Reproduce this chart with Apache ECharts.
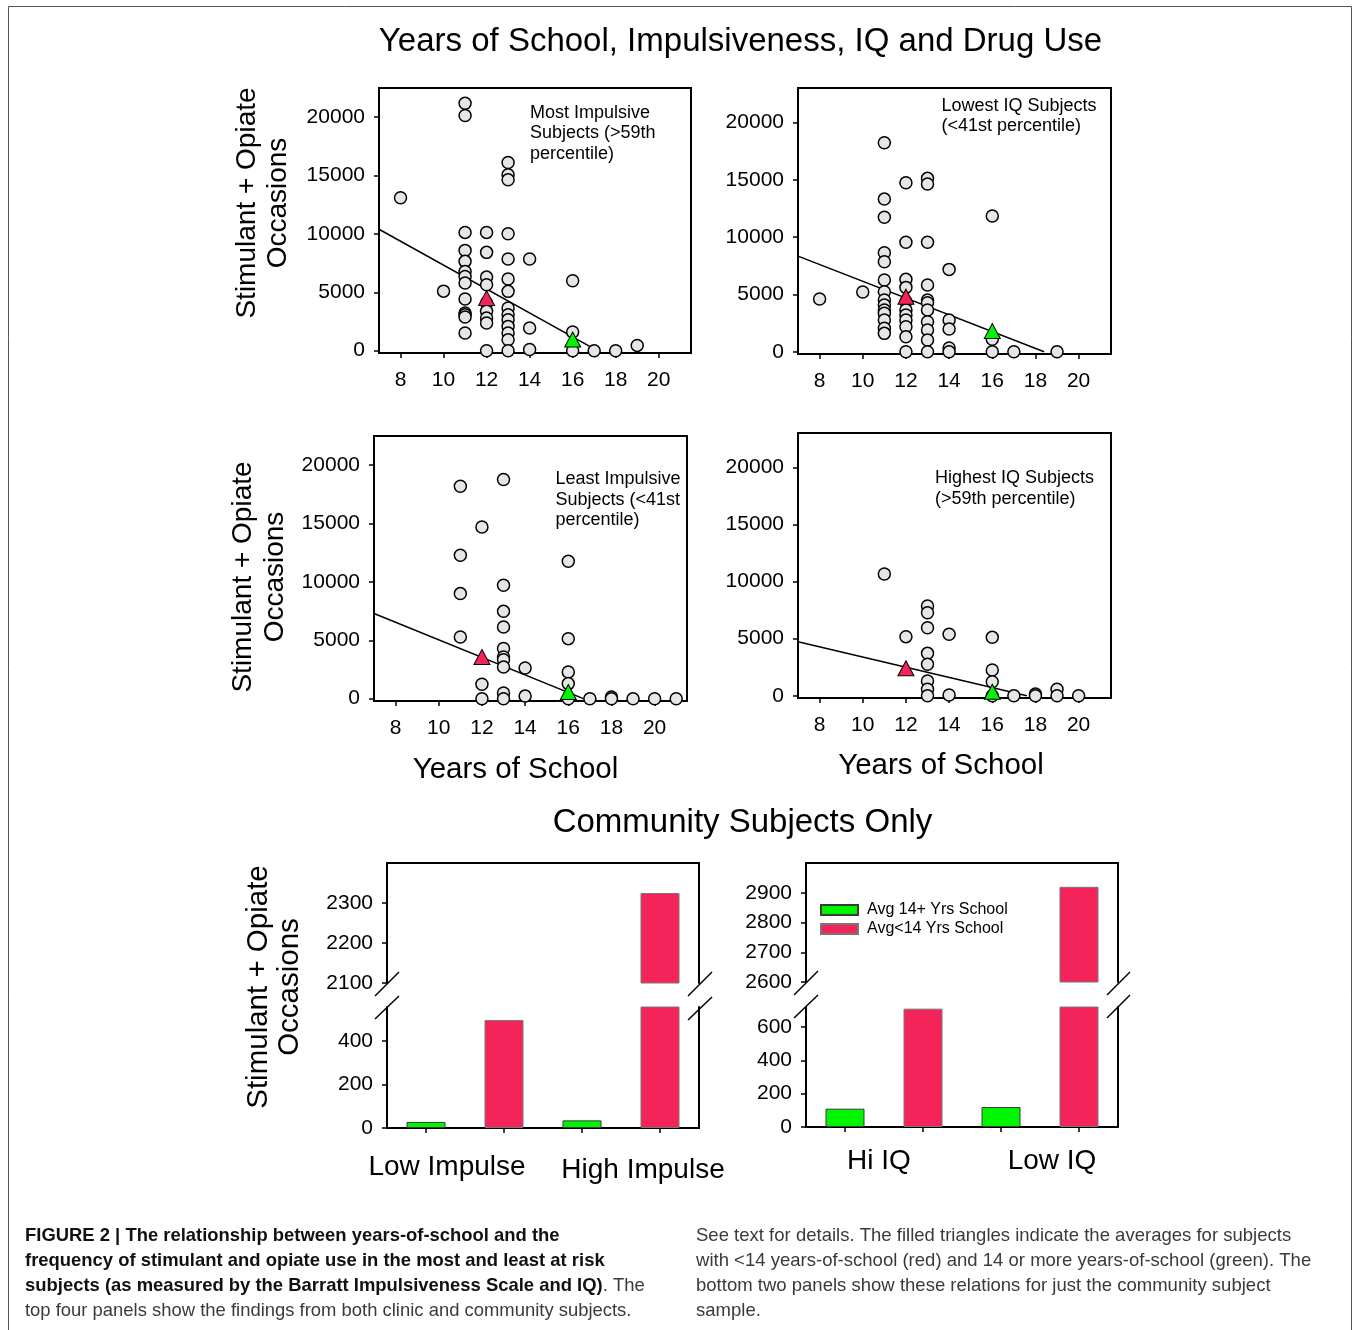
<!DOCTYPE html>
<html>
<head>
<meta charset="utf-8">
<script src="https://cdn.jsdelivr.net/npm/echarts@6/dist/echarts.min.js"></script>
<style>
html,body{margin:0;padding:0;background:#fff;}
#chart{width:1356px;height:1330px;}
</style>
</head>
<body>
<div id="chart"></div>
<script>
// ---------------- DATA ----------------
const schoolTicks = [8, 10, 12, 14, 16, 18, 20];
const useTicks = [0, 5000, 10000, 15000, 20000];

// Most impulsive subjects (>59th percentile)
const mostImpulsivePts = [[8,13100],[10,5100],[11,21200],[11,20150],[11,10130],[11,8590],[11,7650],[11,6790],[11,6360],[11,5790],[11,4420],[11,3220],[11,3080],[11,2880],[11,1520],[12,10130],[12,8420],[12,6300],[12,5650],[12,4080],[12,3370],[12,2800],[12,2370],[12,0],[13,16120],[13,15070],[13,14640],[13,10020],[13,7850],[13,6140],[13,5080],[13,3650],[13,3080],[13,2650],[13,2080],[13,1520],[13,940],[13,0],[14,7850],[14,1940],[14,100],[16,5990],[16,1600],[16,0],[17,0],[18,0],[19,450]];
const mostImpulsiveAvgLow = [[12,4500]];
const mostImpulsiveAvgHigh = [[16,950]];
const mostImpulsiveFit = [[7,10400],[17.15,0]];

// Lowest IQ subjects (<41st percentile)
const lowestIQPts = [[8,4590],[10,5200],[11,18220],[11,13310],[11,11720],[11,8630],[11,7850],[11,6250],[11,5230],[11,4510],[11,4070],[11,3640],[11,3350],[11,2760],[11,2040],[11,1600],[12,14730],[12,9540],[12,6310],[12,5610],[12,4360],[12,3640],[12,3200],[12,2760],[12,2180],[12,1310],[12,0],[13,15120],[13,14620],[13,9540],[13,5820],[13,4510],[13,4270],[13,3640],[13,2620],[13,1890],[13,1020],[13,0],[14,7180],[14,2760],[14,1980],[14,320],[14,0],[16,11830],[16,1080],[16,0],[17,0],[19,0]];
const lowestIQAvgLow = [[12,4800]];
const lowestIQAvgHigh = [[16,1800]];
const lowestIQFit = [[7,8340],[18.4,0]];

// Least impulsive subjects (<41st percentile)
const leastImpulsivePts = [[11,18200],[11,12280],[11,9000],[11,5280],[12,14710],[12,1230],[12,0],[13,18770],[13,9710],[13,7480],[13,6140],[13,4290],[13,3570],[13,3340],[13,2710],[13,480],[13,0],[14,2620],[14,220],[16,11770],[16,5140],[16,2280],[16,1290],[16,0],[17,0],[18,150],[18,0],[19,0],[20,0],[21,0]];
const leastImpulsiveAvgLow = [[12,3570]];
const leastImpulsiveAvgHigh = [[16,570]];
const leastImpulsiveFit = [[7,7290],[16.7,0]];

// Highest IQ subjects (>59th percentile)
const highestIQPts = [[11,10660],[12,5170],[13,7850],[13,7270],[13,5950],[13,3710],[13,2750],[13,1290],[13,560],[13,0],[14,5380],[14,60],[16,5110],[16,2250],[16,1230],[16,0],[17,0],[18,150],[18,0],[19,560],[19,0],[20,0]];
const highestIQAvgLow = [[12,2400]];
const highestIQAvgHigh = [[16,350]];
const highestIQFit = [[7,4730],[17.6,0]];

// Community subjects only
const impulseGroups = ['Low Impulse', 'High Impulse'];
const impulseHiSchool = [28, 35];     // Avg 14+ Yrs School
const impulseLoSchool = [495, 2325];  // Avg<14 Yrs School
const impulseLowerTicks = [0, 200, 400];
const impulseUpperTicks = [2100, 2200, 2300];

const iqGroups = ['Hi IQ', 'Low IQ'];
const iqHiSchool = [110, 120];
const iqLoSchool = [710, 2920];
const iqLowerTicks = [0, 200, 400, 600];
const iqUpperTicks = [2600, 2700, 2800, 2900];

const seriesNames = ['Avg 14+ Yrs School', 'Avg<14 Yrs School'];

// ---------------- STYLE ----------------
const FONT = "'Liberation Sans', Arial, Helvetica, sans-serif";
const RED = '#f4245a';
const GREEN = '#00f500';
const BLACK = '#000';

const grids = [
  {left: 379, top: 88,  width: 312, height: 265},  // 0 most impulsive
  {left: 798, top: 88,  width: 313, height: 266},  // 1 lowest IQ
  {left: 374, top: 436, width: 313, height: 265},  // 2 least impulsive
  {left: 798, top: 433, width: 313, height: 265},  // 3 highest IQ
  {left: 387, top: 863, width: 312, height: 120},  // 4 impulse upper
  {left: 387, top: 1007, width: 312, height: 121}, // 5 impulse lower
  {left: 806, top: 863, width: 312, height: 119},  // 6 IQ upper
  {left: 806, top: 1007, width: 312, height: 120}  // 7 IQ lower
].map((g, i) => Object.assign({
  show: i < 4, borderColor: BLACK, borderWidth: 2, backgroundColor: 'transparent',
  containLabel: false, outerBoundsMode: 'none'
}, g));

const lineStyle = {color: BLACK, width: 2};
const tickStyle = {color: BLACK, width: 1.5};
const plainNum = (v) => String(v);
const labelBase = {color: BLACK, fontFamily: FONT, fontSize: 21, formatter: plainNum};

function sX(gi) {
  return {gridIndex: gi, type: 'value', min: 7, max: 21.5,
    axisLine: {show: true, onZero: false, lineStyle},
    axisTick: {show: true, customValues: schoolTicks, length: 5, lineStyle: tickStyle},
    axisLabel: Object.assign({show: true, customValues: schoolTicks, margin: 17}, labelBase),
    splitLine: {show: false}};
}
function sY(gi, max) {
  return {gridIndex: gi, type: 'value', min: -200, max: max,
    axisLine: {show: true, onZero: false, lineStyle},
    axisTick: {show: true, customValues: useTicks, length: 5, lineStyle: tickStyle},
    axisLabel: Object.assign({show: true, customValues: useTicks, margin: 14}, labelBase),
    splitLine: {show: false}};
}
function bXTop(gi, groups) {
  return {gridIndex: gi, type: 'category', data: groups, position: 'top',
    axisLine: {show: true, onZero: false, lineStyle}, axisTick: {show: false},
    axisLabel: {show: false}, splitLine: {show: false}};
}
function bXBottom(gi, groups, margin, rich) {
  return {gridIndex: gi, type: 'category', data: groups, position: 'bottom',
    axisLine: {show: true, onZero: false, lineStyle}, axisTick: {show: false},
    axisLabel: {show: true, interval: 0, margin: margin, color: BLACK, fontFamily: FONT, fontSize: 28,
      formatter: (v, i) => '{g' + i + '|' + v + '}', rich: rich},
    splitLine: {show: false}};
}
function bXTicks(gi, n) {
  return {gridIndex: gi, type: 'category', data: new Array(n).fill(''), position: 'bottom',
    axisLine: {show: false}, axisTick: {show: true, alignWithLabel: true, interval: 0, length: 5, lineStyle: tickStyle},
    axisLabel: {show: false}, splitLine: {show: false}};
}
function bYLeft(gi, min, max, ticks) {
  return {gridIndex: gi, type: 'value', min, max, position: 'left',
    axisLine: {show: true, onZero: false, lineStyle},
    axisTick: {show: true, customValues: ticks, length: 5, lineStyle: tickStyle},
    axisLabel: Object.assign({show: true, customValues: ticks, margin: 14}, labelBase),
    splitLine: {show: false}};
}
function bYRight(gi, min, max) {
  return {gridIndex: gi, type: 'value', min, max, position: 'right',
    axisLine: {show: true, onZero: false, lineStyle}, axisTick: {show: false},
    axisLabel: {show: false}, splitLine: {show: false}};
}

const richLabel = (pads) => {
  const r = {};
  pads.forEach((p, i) => { r['g' + i] = {padding: p, fontSize: 28, fontFamily: FONT, color: BLACK}; });
  return r;
};

const xAxis = [
  sX(0), sX(1), sX(2), sX(3),
  bXTop(4, impulseGroups),                                                     // 4
  bXBottom(5, impulseGroups, 25, richLabel([[0, 36, 0, 0], [3, 0, 0, 44]])),   // 5
  bXTicks(5, 4),                                                               // 6
  bXTop(6, iqGroups),                                                          // 7
  bXBottom(7, iqGroups, 20, richLabel([[0, 10, 0, 0], [0, 0, 0, 24]])),        // 8
  bXTicks(7, 4)                                                                // 9
];
const yAxis = [
  sY(0, 22500), sY(1, 23000), sY(2, 22500), sY(3, 23000),
  bYLeft(4, 2100, 2400, impulseUpperTicks),  // 4
  bYLeft(5, 0, 555, impulseLowerTicks),      // 5
  bYLeft(6, 2600, 3000, iqUpperTicks),       // 6
  bYLeft(7, 0, 720, iqLowerTicks),           // 7
  bYRight(4, 2100, 2400),                    // 8
  bYRight(5, 0, 555),                        // 9
  bYRight(6, 2600, 3000),                    // 10
  bYRight(7, 0, 720)                         // 11
];

const series = [];
function scatterPanel(i, pts, avgLow, avgHigh, fit) {
  series.push({type: 'line', xAxisIndex: i, yAxisIndex: i, data: fit, showSymbol: false, symbol: 'none',
    lineStyle: {color: BLACK, width: 1.5}, z: 2, silent: true});
  series.push({type: 'scatter', xAxisIndex: i, yAxisIndex: i, data: pts, symbol: 'circle', symbolSize: 12,
    itemStyle: {color: '#e6e6e6', borderColor: BLACK, borderWidth: 1.5, opacity: 1}, z: 3});
  series.push({type: 'scatter', xAxisIndex: i, yAxisIndex: i, data: avgLow, symbol: 'triangle', symbolSize: [16, 15],
    itemStyle: {color: RED, borderColor: BLACK, borderWidth: 1, opacity: 1}, z: 4});
  series.push({type: 'scatter', xAxisIndex: i, yAxisIndex: i, data: avgHigh, symbol: 'triangle', symbolSize: [16, 15],
    itemStyle: {color: GREEN, borderColor: BLACK, borderWidth: 1, opacity: 1}, z: 4});
}
scatterPanel(0, mostImpulsivePts, mostImpulsiveAvgLow, mostImpulsiveAvgHigh, mostImpulsiveFit);
scatterPanel(1, lowestIQPts, lowestIQAvgLow, lowestIQAvgHigh, lowestIQFit);
scatterPanel(2, leastImpulsivePts, leastImpulsiveAvgLow, leastImpulsiveAvgHigh, leastImpulsiveFit);
scatterPanel(3, highestIQPts, highestIQAvgLow, highestIQAvgHigh, highestIQFit);

function barPair(xi, yi, hi, lo) {
  series.push({type: 'bar', name: seriesNames[0], xAxisIndex: xi, yAxisIndex: yi, data: hi,
    barWidth: 39, barGap: '100%', clip: true,
    itemStyle: {color: GREEN, borderColor: '#3a3a3a', borderWidth: 1}});
  series.push({type: 'bar', name: seriesNames[1], xAxisIndex: xi, yAxisIndex: yi, data: lo,
    barWidth: 39, barGap: '100%', clip: true,
    itemStyle: {color: RED, borderColor: '#777', borderWidth: 1}});
}
barPair(4, 4, impulseHiSchool, impulseLoSchool);
barPair(5, 5, impulseHiSchool, impulseLoSchool);
barPair(7, 6, iqHiSchool, iqLoSchool);
barPair(8, 7, iqHiSchool, iqLoSchool);

// ---------------- GRAPHIC (texts & decorations) ----------------
function txt(x, y, text, size, opts) {
  return Object.assign({type: 'text', x: x, y: y, silent: true,
    style: Object.assign({text: text, fill: BLACK, fontFamily: FONT, fontSize: size,
      align: 'center', verticalAlign: 'middle'}, (opts && opts.style) || {})},
    (opts && opts.props) || {});
}
function slash(x1, y1, x2, y2) {
  return {type: 'line', silent: true, shape: {x1, y1, x2, y2}, style: {stroke: BLACK, lineWidth: 1.5}};
}
const yTitle = 'Stimulant + Opiate\nOccasions';

const graphics = [
  {type: 'rect', silent: true, shape: {x: 8.5, y: 6.5, width: 1343, height: 1340},
    style: {fill: 'none', stroke: '#555', lineWidth: 1}},
  txt(740.5, 42, 'Years of School, Impulsiveness, IQ and Drug Use', 33),
  txt(742.5, 823, 'Community Subjects Only', 33),
  txt(515.5, 769.5, 'Years of School', 29.5),
  txt(941, 765.5, 'Years of School', 29.5),
  txt(262.5, 203, yTitle, 28, {style: {lineHeight: 31}, props: {rotation: Math.PI / 2}}),
  txt(259, 577, yTitle, 28, {style: {lineHeight: 32}, props: {rotation: Math.PI / 2}}),
  txt(274.5, 987, yTitle, 29.5, {style: {lineHeight: 31}, props: {rotation: Math.PI / 2}}),
  txt(530, 102.5, 'Most Impulsive\nSubjects (>59th\npercentile)', 18, {style: {align: 'left', verticalAlign: 'top', lineHeight: 20.5}}),
  txt(941.5, 96, 'Lowest IQ Subjects\n(<41st percentile)', 18, {style: {align: 'left', verticalAlign: 'top', lineHeight: 20}}),
  txt(555.5, 468.5, 'Least Impulsive\nSubjects (<41st\npercentile)', 18, {style: {align: 'left', verticalAlign: 'top', lineHeight: 20.8}}),
  txt(935, 468, 'Highest IQ Subjects\n(>59th percentile)', 18, {style: {align: 'left', verticalAlign: 'top', lineHeight: 21}}),
  // axis-break marks
  slash(375, 996, 399, 972), slash(375, 1019, 399, 996),
  slash(688, 996, 712, 972), slash(688, 1020, 712, 997),
  slash(794, 995, 818, 971), slash(794, 1018, 818, 995),
  slash(1107, 995, 1130, 972), slash(1107, 1018, 1130, 995),
  // caption
  {type: 'text', x: 25, y: 1223.5, scaleX: 0.97, silent: true, style: {
    text: '{b|FIGURE 2 | The relationship between years-of-school and the}\n' +
          '{b|frequency of stimulant and opiate use in the most and least at risk}\n' +
          '{b|subjects (as measured by the Barratt Impulsiveness Scale and IQ)}{n|. The}\n' +
          '{n|top four panels show the findings from both clinic and community subjects.}',
    align: 'left', verticalAlign: 'top', fontFamily: FONT, fontSize: 19, lineHeight: 25, fill: '#111',
    rich: {
      b: {fontFamily: FONT, fontWeight: 'bold', fontSize: 19, lineHeight: 25, fill: '#111', color: '#111'},
      n: {fontFamily: FONT, fontWeight: 'normal', fontSize: 19, lineHeight: 25, fill: '#3a3a3a', color: '#3a3a3a'}
    }}},
  {type: 'text', x: 696, y: 1223.5, scaleX: 0.975, silent: true, style: {
    text: 'See text for details. The filled triangles indicate the averages for subjects\n' +
          'with <14 years-of-school (red) and 14 or more years-of-school (green). The\n' +
          'bottom two panels show these relations for just the community subject\n' +
          'sample.',
    align: 'left', verticalAlign: 'top', fontFamily: FONT, fontSize: 19, lineHeight: 25, fill: '#3a3a3a'}}
];

const option = {
  animation: false,
  backgroundColor: '#fff',
  grid: grids,
  xAxis: xAxis,
  yAxis: yAxis,
  legend: {
    data: seriesNames, orient: 'vertical', left: 820, top: 902, padding: 0,
    icon: 'rect', itemWidth: 37, itemHeight: 10, itemGap: 3,
    textStyle: {fontFamily: FONT, fontSize: 16, color: BLACK, padding: [0, 0, 0, 4]},
    selectedMode: false
  },
  series: series,
  graphic: {elements: graphics}
};

const chart = echarts.init(document.getElementById('chart'), null, {renderer: 'canvas'});
chart.setOption(option);
</script>
</body>
</html>
